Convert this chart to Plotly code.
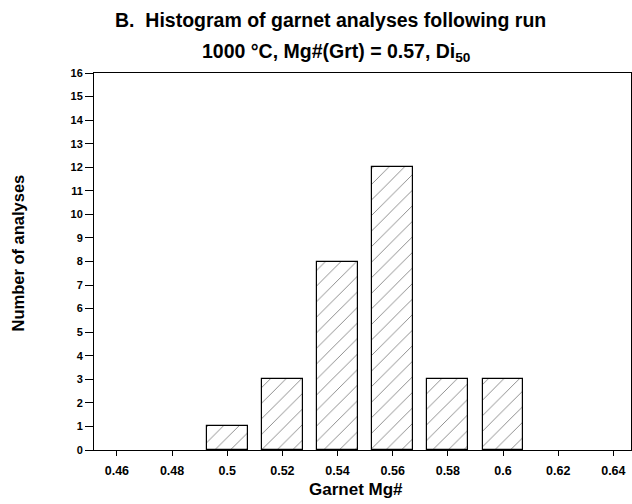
import plotly.graph_objects as go

mg_bins = [0.46, 0.48, 0.50, 0.52, 0.54, 0.56, 0.58, 0.60, 0.62, 0.64]
counts = [0, 0, 1, 3, 8, 12, 3, 3, 0, 0]
x_tick_labels = ["0.46", "0.48", "0.5", "0.52", "0.54", "0.56", "0.58", "0.6", "0.62", "0.64"]
y_ticks = list(range(0, 17))

FONT = "Liberation Sans, Arial, Helvetica, sans-serif"

line_widths = [1.2 if c > 0 else 0 for c in counts]

fig = go.Figure()
fig.add_trace(go.Bar(
    x=mg_bins, y=counts, width=0.0148,
    marker=dict(color="white",
                line=dict(color="black", width=line_widths),
                pattern=dict(shape="/", fgcolor="black", bgcolor="white",
                             size=11, solidity=0.08, fillmode="overlay")),
    showlegend=False,
))

fig.update_layout(
    width=632, height=504,
    margin=dict(l=94, r=1, t=73, b=54),
    paper_bgcolor="white", plot_bgcolor="white",
    font=dict(family=FONT, color="black"),
    bargap=0,
    xaxis=dict(range=[0.4517, 0.6464], tickvals=mg_bins, ticktext=x_tick_labels,
               ticks="outside", ticklen=5, tickwidth=1, tickcolor="black",
               showline=True, linecolor="black", linewidth=1, mirror=True,
               showgrid=False, zeroline=False, ticklabelstandoff=4,
               tickfont=dict(size=12.5, family=FONT, weight="bold")),
    yaxis=dict(range=[0, 16], tickvals=y_ticks,
               ticks="outside", ticklen=8, tickwidth=1, tickcolor="black",
               showline=True, linecolor="black", linewidth=1, mirror=True,
               showgrid=False, zeroline=False,
               tickfont=dict(size=11, family=FONT, weight="bold")),
    annotations=[
        dict(text="<b>B.  Histogram of garnet analyses following run</b>",
             xref="paper", yref="paper", x=0.44, y=1, yshift=53, xanchor="center", yanchor="middle",
             showarrow=False, font=dict(size=19.5, family=FONT)),
        dict(text="<b>1000 °C, Mg#(Grt) = 0.57, Di<sub>50</sub></b>",
             xref="paper", yref="paper", x=0.452, y=1, yshift=21, xanchor="center", yanchor="middle",
             showarrow=False, font=dict(size=19.5, family=FONT)),
        dict(text="<b>Garnet Mg#</b>",
             xref="paper", yref="paper", x=0.488, y=0, yshift=-39, xanchor="center", yanchor="middle",
             showarrow=False, font=dict(size=17, family=FONT)),
        dict(text="<b>Number of analyses</b>", textangle=-90,
             xref="paper", yref="paper", x=-0.1406, y=0.5225, xanchor="center", yanchor="middle",
             showarrow=False, font=dict(size=16.5, family=FONT)),
    ],
)

fig.write_html("out.html")
